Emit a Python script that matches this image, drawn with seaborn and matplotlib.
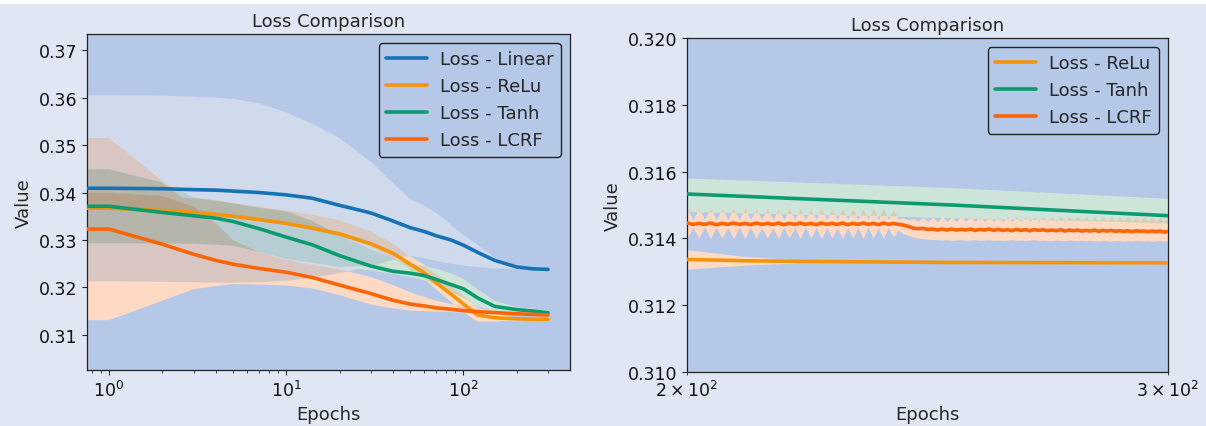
import itertools
import numpy as np
import matplotlib
matplotlib.use("Agg")
import matplotlib.pyplot as plt
from matplotlib.colors import to_rgb
from matplotlib.patches import Rectangle
import seaborn as sns

# ---------------- data : left panel (full run) ----------------
epochs = [0, 1, 2, 3, 4, 5, 7, 10, 14, 20, 30, 40, 50, 60, 70, 85, 100, 120, 150, 200, 250, 300]

linear_mean = [0.3409, 0.3409, 0.3408, 0.3406, 0.3405, 0.3403, 0.3400, 0.3395, 0.3388, 0.3373, 0.3357,
               0.3340, 0.3326, 0.3318, 0.3309, 0.3300, 0.3289, 0.3274, 0.3257, 0.3243, 0.3239, 0.3238]
linear_lo = [0.3213, 0.3213, 0.3212, 0.3211, 0.3210, 0.3210, 0.3211, 0.3214, 0.3220, 0.3230, 0.3245,
             0.3258, 0.3266, 0.3262, 0.3256, 0.3250, 0.3246, 0.3243, 0.3240, 0.3239, 0.3237, 0.3237]
linear_hi = [0.3605, 0.3605, 0.3604, 0.3602, 0.3600, 0.3597, 0.3588, 0.3569, 0.3545, 0.3515, 0.3465,
             0.3420, 0.3386, 0.3372, 0.3358, 0.3332, 0.3310, 0.3290, 0.3262, 0.3246, 0.3240, 0.3239]

relu_mean = [0.3367, 0.3367, 0.3362, 0.3358, 0.3354, 0.3350, 0.3343, 0.3335, 0.3325, 0.3313, 0.3292,
             0.3272, 0.3249, 0.3231, 0.3210, 0.3186, 0.3165, 0.3142, 0.3136, 0.3134, 0.3133, 0.3133]
relu_lo = [0.3364, 0.3364, 0.3359, 0.3355, 0.3351, 0.3347, 0.3340, 0.3332, 0.3321, 0.3308, 0.3285,
           0.3262, 0.3238, 0.3218, 0.3196, 0.3170, 0.3148, 0.3128, 0.3128, 0.3131, 0.31325, 0.3132]
relu_hi = [0.3399, 0.3399, 0.3393, 0.3388, 0.3383, 0.3378, 0.3370, 0.3362, 0.3353, 0.3342, 0.3318,
           0.3292, 0.3265, 0.3248, 0.3228, 0.3204, 0.3183, 0.3158, 0.3144, 0.3136, 0.31335, 0.3134]

tanh_mean = [0.3371, 0.3371, 0.3358, 0.3351, 0.3346, 0.3339, 0.3324, 0.3306, 0.3290, 0.3267, 0.3245,
             0.3234, 0.3230, 0.3225, 0.3217, 0.3206, 0.3197, 0.3178, 0.3160, 0.31533, 0.3150, 0.31468]
tanh_lo = [0.3293, 0.3293, 0.3293, 0.3292, 0.3290, 0.3288, 0.3275, 0.3260, 0.3252, 0.3243, 0.3236,
           0.3228, 0.3222, 0.3215, 0.3205, 0.3190, 0.3178, 0.3160, 0.3150, 0.3148, 0.3146, 0.31445]
tanh_hi = [0.3449, 0.3449, 0.3421, 0.3390, 0.3383, 0.3377, 0.3368, 0.3360, 0.3340, 0.3310, 0.3280,
           0.3262, 0.3250, 0.3245, 0.3240, 0.3230, 0.3218, 0.3196, 0.3172, 0.3158, 0.3155, 0.3152]

lcrf_mean = [0.3323, 0.3323, 0.3291, 0.3270, 0.3257, 0.3249, 0.3240, 0.3232, 0.3221, 0.3205, 0.3187,
             0.3173, 0.3165, 0.3161, 0.3157, 0.3154, 0.3151, 0.3149, 0.3147, 0.31445, 0.3143, 0.3142]
lcrf_lo = [0.3131, 0.3131, 0.3172, 0.3196, 0.3203, 0.3207, 0.3206, 0.3204, 0.3198, 0.3184, 0.3164,
           0.3156, 0.3151, 0.3150, 0.3149, 0.3148, 0.3147, 0.3146, 0.3144, 0.3141, 0.3140, 0.3140]
lcrf_hi = [0.3515, 0.3515, 0.3425, 0.3370, 0.3335, 0.3300, 0.3275, 0.3258, 0.3248, 0.3238, 0.3222,
           0.3205, 0.3190, 0.3180, 0.3172, 0.3165, 0.3160, 0.3155, 0.3151, 0.3148, 0.3146, 0.3146]

# ---------------- data : right panel (epochs 200-300) ----------------
relu_zoom_epochs = [200, 205, 210, 220, 230, 250, 300]
relu_zoom_mean = [0.31337, 0.31335, 0.31333, 0.31331, 0.31330, 0.31328, 0.31327]
relu_zoom_lo = [0.31308, 0.31314, 0.31320, 0.31327, 0.31328, 0.31327, 0.31326]
relu_zoom_hi = [0.31366, 0.31356, 0.31346, 0.31335, 0.31332, 0.31329, 0.31328]

tanh_zoom_epochs = [200, 250, 300]
tanh_zoom_mean = [0.31533, 0.31500, 0.31468]
tanh_zoom_lo = [0.31480, 0.31462, 0.31445]
tanh_zoom_hi = [0.31581, 0.31552, 0.31520]

lcrf_zoom_epochs = list(range(200, 301))
lcrf_zoom_mean = [
    0.31446, 0.31442, 0.31445, 0.31442, 0.31446, 0.31441, 0.31445, 0.31442, 0.31446, 0.31442,
    0.31445, 0.31441, 0.31446, 0.31442, 0.31445, 0.31442, 0.31446, 0.31441, 0.31445, 0.31442,
    0.31446, 0.31442, 0.31445, 0.31441, 0.31446, 0.31442, 0.31445, 0.31442, 0.31446, 0.31441,
    0.31445, 0.31442, 0.31446, 0.31442, 0.31445, 0.31441, 0.31446, 0.31442, 0.31445, 0.31442,
    0.31440, 0.31436, 0.31431, 0.31429, 0.31430, 0.31427, 0.31428, 0.31425, 0.31428, 0.31425,
    0.31428, 0.31425, 0.31427, 0.31425, 0.31428, 0.31424, 0.31427, 0.31425, 0.31428, 0.31424,
    0.31427, 0.31424, 0.31426, 0.31423, 0.31427, 0.31424, 0.31426, 0.31423, 0.31426, 0.31424,
    0.31426, 0.31423, 0.31425, 0.31423, 0.31426, 0.31422, 0.31425, 0.31423, 0.31425, 0.31422,
    0.31424, 0.31422, 0.31425, 0.31421, 0.31424, 0.31422, 0.31424, 0.31421, 0.31423, 0.31421,
    0.31423, 0.31420, 0.31423, 0.31421, 0.31422, 0.31420, 0.31422, 0.31420, 0.31422, 0.31419,
    0.31421]
lcrf_zoom_lo = [
    0.31400, 0.31433, 0.31401, 0.31434, 0.31400, 0.31432, 0.31401, 0.31433, 0.31400, 0.31433,
    0.31401, 0.31434, 0.31400, 0.31433, 0.31401, 0.31432, 0.31400, 0.31433, 0.31401, 0.31433,
    0.31400, 0.31434, 0.31401, 0.31433, 0.31400, 0.31432, 0.31401, 0.31433, 0.31400, 0.31433,
    0.31401, 0.31434, 0.31400, 0.31433, 0.31401, 0.31432, 0.31400, 0.31433, 0.31405, 0.31425,
    0.31414, 0.31409, 0.31404, 0.31401, 0.31399, 0.31398, 0.31397, 0.31396, 0.31395, 0.31396,
    0.31394, 0.31395, 0.31396, 0.31394, 0.31395, 0.31396, 0.31394, 0.31395, 0.31396, 0.31394,
    0.31395, 0.31394, 0.31395, 0.31396, 0.31394, 0.31395, 0.31394, 0.31395, 0.31396, 0.31394,
    0.31395, 0.31394, 0.31393, 0.31395, 0.31394, 0.31393, 0.31395, 0.31394, 0.31393, 0.31394,
    0.31393, 0.31394, 0.31393, 0.31392, 0.31394, 0.31393, 0.31392, 0.31394, 0.31393, 0.31392,
    0.31393, 0.31392, 0.31394, 0.31393, 0.31392, 0.31393, 0.31392, 0.31393, 0.31394, 0.31392,
    0.31393]
lcrf_zoom_hi = [
    0.31490, 0.31456, 0.31489, 0.31457, 0.31490, 0.31456, 0.31489, 0.31456, 0.31490, 0.31457,
    0.31490, 0.31456, 0.31489, 0.31457, 0.31490, 0.31456, 0.31489, 0.31456, 0.31490, 0.31457,
    0.31490, 0.31456, 0.31489, 0.31457, 0.31490, 0.31456, 0.31489, 0.31456, 0.31490, 0.31457,
    0.31490, 0.31456, 0.31489, 0.31457, 0.31490, 0.31456, 0.31489, 0.31456, 0.31486, 0.31458,
    0.31462, 0.31455, 0.31460, 0.31452, 0.31463, 0.31450, 0.31464, 0.31450, 0.31465, 0.31450,
    0.31465, 0.31450, 0.31466, 0.31451, 0.31465, 0.31450, 0.31466, 0.31450, 0.31465, 0.31451,
    0.31465, 0.31450, 0.31466, 0.31450, 0.31465, 0.31451, 0.31466, 0.31450, 0.31465, 0.31450,
    0.31466, 0.31451, 0.31465, 0.31450, 0.31466, 0.31450, 0.31465, 0.31451, 0.31466, 0.31450,
    0.31465, 0.31450, 0.31466, 0.31451, 0.31465, 0.31450, 0.31466, 0.31450, 0.31465, 0.31451,
    0.31466, 0.31450, 0.31465, 0.31450, 0.31466, 0.31451, 0.31465, 0.31450, 0.31466, 0.31450,
    0.31465]

labels = ["Loss - Linear", "Loss - ReLu", "Loss - Tanh", "Loss - LCRF"]

# ---------------- style ----------------
FIG_BG = "#e0e6f3"
AX_BG = "#b6c8e8"
LINE_COLORS = ["#1672b4", "#f5930b", "#0b9b6e", "#fb6508"]
BAND_COLORS = ["#d0daed", "#fddcc3", "#cde5d9", "#fed9c4"]

sns.set_style("ticks")
plt.rcParams.update({
    "font.family": ["DejaVu Sans"],
    "axes.facecolor": AX_BG,
    "axes.edgecolor": "#222222",
    "axes.linewidth": 0.9,
    "xtick.color": "#222222",
    "ytick.color": "#222222",
    "xtick.labelcolor": "#111111",
    "ytick.labelcolor": "#111111",
})

fig = plt.figure(figsize=(12.06, 4.27), dpi=100, facecolor=FIG_BG)
fig.add_artist(Rectangle((0, 1 - 5 / 427), 1, 5 / 427, transform=fig.transFigure,
                         facecolor="white", edgecolor="none", zorder=-5))

ax1 = fig.add_axes([87 / 1206, 1 - 371 / 427, 483 / 1206, 336 / 427])
ax2 = fig.add_axes([687 / 1206, 1 - 373 / 427, 481 / 1206, 334 / 427])


def mix(cols):
    """Colour of overlapping shaded bands (soft multiply)."""
    return tuple(np.prod([to_rgb(c) for c in cols], axis=0) ** 0.8)


# ---- left panel bands with overlap shading ----
x = np.array(epochs, dtype=float)
bands = [(np.array(linear_lo), np.array(linear_hi)),
         (np.array(relu_lo), np.array(relu_hi)),
         (np.array(tanh_lo), np.array(tanh_hi)),
         (np.array(lcrf_lo), np.array(lcrf_hi))]
for k in range(1, 5):
    for combo in itertools.combinations(range(4), k):
        lo = np.max([bands[i][0] for i in combo], axis=0)
        hi = np.min([bands[i][1] for i in combo], axis=0)
        if not np.any(hi > lo):
            continue
        col = to_rgb(BAND_COLORS[combo[0]]) if k == 1 else mix([BAND_COLORS[i] for i in combo])
        ax1.fill_between(x, lo, hi, where=hi > lo, interpolate=True,
                         color=col, lw=0, zorder=1)

means = [linear_mean, relu_mean, tanh_mean, lcrf_mean]
for m, c, lab in zip(means, LINE_COLORS, labels):
    sns.lineplot(x=epochs, y=m, ax=ax1, color=c, lw=2.6, label=lab,
                 estimator=None, sort=False, zorder=3)

ax1.set_xscale("log")
ax1.set_ylim(0.3026, 0.3734)
ax1.set_title("Loss Comparison", fontsize=13)
ax1.set_xlabel("Epochs", fontsize=13)
ax1.set_ylabel("Value", fontsize=13)

# ---- right panel ----
ax2.fill_between(relu_zoom_epochs, relu_zoom_lo, relu_zoom_hi, color=BAND_COLORS[1], lw=0, zorder=1)
tanh_poly = ax2.fill_between(tanh_zoom_epochs, tanh_zoom_lo, tanh_zoom_hi, color=BAND_COLORS[2], lw=0, zorder=1)
ax2.fill_between(lcrf_zoom_epochs, lcrf_zoom_lo, lcrf_zoom_hi, color=BAND_COLORS[3], lw=0, zorder=1)
ov = ax2.fill_between(lcrf_zoom_epochs, lcrf_zoom_lo, lcrf_zoom_hi,
                      color=mix([BAND_COLORS[2], BAND_COLORS[3]]), lw=0, zorder=1.1)
ov.set_clip_path(tanh_poly.get_paths()[0], ax2.transData)

sns.lineplot(x=relu_zoom_epochs, y=relu_zoom_mean, ax=ax2, color=LINE_COLORS[1], lw=2.6,
             label=labels[1], estimator=None, sort=False, zorder=3)
sns.lineplot(x=tanh_zoom_epochs, y=tanh_zoom_mean, ax=ax2, color=LINE_COLORS[2], lw=2.6,
             label=labels[2], estimator=None, sort=False, zorder=3)
sns.lineplot(x=lcrf_zoom_epochs, y=lcrf_zoom_mean, ax=ax2, color=LINE_COLORS[3], lw=2.6,
             label=labels[3], estimator=None, sort=False, zorder=3)

ax2.set_xscale("log")
ax2.set_xlim(200, 300)
ax2.set_ylim(0.310, 0.320)
ax2.set_yticks([0.310, 0.312, 0.314, 0.316, 0.318, 0.320])
ax2.set_title("Loss Comparison", fontsize=13)
ax2.set_xlabel("Epochs", fontsize=13)
ax2.set_ylabel("Value", fontsize=13)

for ax in (ax1, ax2):
    ax.set_facecolor(AX_BG)
    for s in ax.spines.values():
        s.set_visible(True)
        s.set_color("#222222")
    ax.tick_params(axis="both", which="both", labelsize=12.5)
    leg = ax.legend(loc="upper right", fontsize=13, frameon=True, fancybox=True,
                    edgecolor="#222222", facecolor=AX_BG, framealpha=1.0,
                    labelspacing=0.5, handlelength=2.3, handletextpad=0.7, borderpad=0.4)
    leg.get_frame().set_linewidth(1.0)

fig.savefig("out.png", dpi=100, facecolor=fig.get_facecolor())
